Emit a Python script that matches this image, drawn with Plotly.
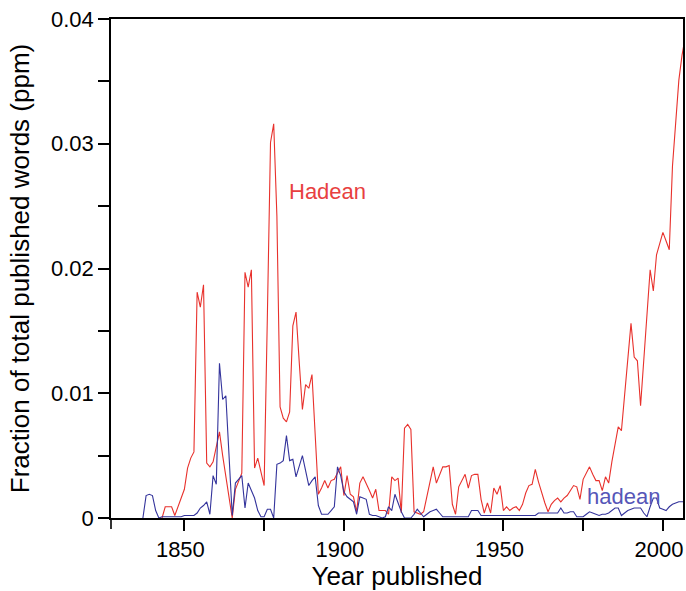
import plotly.graph_objects as go

# Word-frequency series (fraction of published words, ppm), one value per year
red_start = 1843
red_values = [
    0.0000, 0.0009, 0.0009, 0.0009, 0.0002, 0.0009, 0.0016,                          # 1843-1849
    0.0023, 0.0040, 0.0048, 0.0053, 0.0181, 0.0169, 0.0187, 0.0044, 0.0041, 0.0045,  # 1850s
    0.0058, 0.0069, 0.0050, 0.0032, 0.0014, 0.0000, 0.0023, 0.0030, 0.0036, 0.0197,  # 1860s
    0.0185, 0.0199, 0.0040, 0.0048, 0.0036, 0.0026, 0.0160, 0.0301, 0.0316, 0.0242,  # 1870s
    0.0089, 0.0080, 0.0077, 0.0085, 0.0154, 0.0165, 0.0125, 0.0087, 0.0107, 0.0104,  # 1880s
    0.0115, 0.0068, 0.0019, 0.0024, 0.0030, 0.0024, 0.0030, 0.0031, 0.0036, 0.0041,  # 1890s
    0.0018, 0.0034, 0.0019, 0.0017, 0.0005, 0.0028, 0.0033, 0.0028, 0.0022, 0.0016,  # 1900s
    0.0023, 0.0006, 0.0006, 0.0006, 0.0003, 0.0033, 0.0030, 0.0032, 0.0004, 0.0072,  # 1910s
    0.0075, 0.0071, 0.0005, 0.0004, 0.0003, 0.0005, 0.0017, 0.0029, 0.0041, 0.0028,  # 1920s
    0.0035, 0.0041, 0.0041, 0.0042, 0.0011, 0.0003, 0.0025, 0.0030, 0.0035, 0.0024,  # 1930s
    0.0034, 0.0035, 0.0035, 0.0015, 0.0004, 0.0012, 0.0004, 0.0024, 0.0019, 0.0026,  # 1940s
    0.0006, 0.0009, 0.0006, 0.0008, 0.0009, 0.0006, 0.0011, 0.0020, 0.0026, 0.0027,  # 1950s
    0.0039, 0.0029, 0.0020, 0.0012, 0.0005, 0.0011, 0.0014, 0.0016, 0.0013, 0.0016,  # 1960s
    0.0018, 0.0022, 0.0026, 0.0025, 0.0015, 0.0031, 0.0036, 0.0041, 0.0035, 0.0030,  # 1970s
    0.0030, 0.0022, 0.0033, 0.0028, 0.0045, 0.0060, 0.0073, 0.0070, 0.0098, 0.0127,  # 1980s
    0.0156, 0.0129, 0.0126, 0.0090, 0.0125, 0.0159, 0.0199, 0.0182, 0.0211, 0.0220,  # 1990s
    0.0229, 0.0222, 0.0215, 0.0282, 0.0320, 0.0351, 0.0371, 0.0385, 0.0400,          # 2000-2008
]
red_years = list(range(red_start, red_start + len(red_values)))

blue_start = 1837
blue_values = [
    0.0000, 0.0018, 0.0019,                                                          # 1837-1839
    0.0018, 0.0006, 0.0000, 0.0001, 0.0001, 0.0001, 0.0001, 0.0001, 0.0001, 0.0001,  # 1840s
    0.0002, 0.0002, 0.0002, 0.0002, 0.0004, 0.0008, 0.0010, 0.0013, 0.0003, 0.0034,  # 1850s
    0.0027, 0.0124, 0.0095, 0.0098, 0.0050, 0.0002, 0.0028, 0.0031, 0.0034, 0.0008,  # 1860s
    0.0028, 0.0022, 0.0016, 0.0006, 0.0001, 0.0001, 0.0007, 0.0007, 0.0000, 0.0043,  # 1870s
    0.0044, 0.0046, 0.0066, 0.0046, 0.0047, 0.0033, 0.0042, 0.0050, 0.0038, 0.0026,  # 1880s
    0.0030, 0.0033, 0.0010, 0.0003, 0.0003, 0.0003, 0.0006, 0.0009, 0.0041, 0.0034,  # 1890s
    0.0021, 0.0017, 0.0015, 0.0013, 0.0003, 0.0017, 0.0016, 0.0015, 0.0003, 0.0002,  # 1900s
    0.0002, 0.0001, 0.0000, 0.0001, 0.0009, 0.0006, 0.0019, 0.0012, 0.0005, 0.0000,  # 1910s
    0.0000, 0.0000, 0.0003, 0.0007, 0.0004, 0.0001, 0.0003, 0.0005, 0.0006, 0.0007,  # 1920s
    0.0004, 0.0001, 0.0001, 0.0001, 0.0001, 0.0001, 0.0001, 0.0001, 0.0001, 0.0001,  # 1930s
    0.0006, 0.0006, 0.0006, 0.0002, 0.0002, 0.0002, 0.0002, 0.0002, 0.0002, 0.0002,  # 1940s
    0.0002, 0.0002, 0.0002, 0.0002, 0.0002, 0.0002, 0.0002, 0.0002, 0.0002, 0.0002,  # 1950s
    0.0002, 0.0004, 0.0004, 0.0004, 0.0004, 0.0004, 0.0004, 0.0004, 0.0008, 0.0004,  # 1960s
    0.0004, 0.0005, 0.0005, 0.0001, 0.0001, 0.0001, 0.0003, 0.0005, 0.0004, 0.0003,  # 1970s
    0.0002, 0.0003, 0.0003, 0.0004, 0.0006, 0.0008, 0.0008, 0.0002, 0.0004, 0.0006,  # 1980s
    0.0007, 0.0008, 0.0008, 0.0008, 0.0004, 0.0001, 0.0009, 0.0016, 0.0016, 0.0008,  # 1990s
    0.0007, 0.0006, 0.0009, 0.0011, 0.0012, 0.0013, 0.0013, 0.0013, 0.0013,          # 2000-2008
]
blue_years = list(range(blue_start, blue_start + len(blue_values)))

x_tick_vals = [1850, 1900, 1950, 2000]
x_tick_text = ["1850", "1900", "1950", "2000"]
y_tick_vals = [0, 0.01, 0.02, 0.03, 0.04]
y_tick_text = ["0", "0.01", "0.02", "0.03", "0.04"]

RED = "#e8312c"
RED_TEXT = "#e84040"
BLUE = "#34349c"
BLUE_TEXT = "#5656b8"
FONT = "Liberation Sans, Arial, Helvetica, sans-serif"

fig = go.Figure()
fig.add_trace(go.Scatter(x=red_years, y=red_values, mode="lines",
                         line=dict(color=RED, width=1.1), name="Hadean"))
fig.add_trace(go.Scatter(x=blue_years, y=blue_values, mode="lines",
                         line=dict(color=BLUE, width=1.1), name="hadean"))

fig.add_annotation(x=1882.3, y=0.0262, text="Hadean", showarrow=False,
                   xanchor="left", yanchor="middle",
                   font=dict(family=FONT, size=22, color=RED_TEXT))
fig.add_annotation(x=1975.7, y=0.00175, text="hadean", showarrow=False,
                   xanchor="left", yanchor="middle",
                   font=dict(family=FONT, size=22, color=BLUE_TEXT))

# short downward stub at the lower-left corner of the frame
fig.add_shape(type="line", xref="paper", yref="paper",
              x0=0, x1=0, y0=0, y1=-11 / 499,
              line=dict(color="black", width=1.6))

fig.update_layout(
    width=686, height=591,
    margin=dict(l=111, r=1, t=19, b=73),
    paper_bgcolor="white", plot_bgcolor="white",
    showlegend=False,
    font=dict(family=FONT, size=22, color="black"),
    xaxis=dict(
        range=[1827.0, 2006.3],
        tickmode="array", tickvals=x_tick_vals, ticktext=x_tick_text,
        ticks="outside", ticklen=11, tickwidth=1.6, tickcolor="black",
        ticklabeloverflow="allow", ticklabelshift=-4,
        minor=dict(tickmode="linear", tick0=1825, dtick=25,
                   ticks="outside", ticklen=11, tickwidth=1.6, tickcolor="black"),
        showline=True, linecolor="black", linewidth=1.6, mirror=True,
        showgrid=False, zeroline=False,
        tickfont=dict(size=22),
        title=dict(text="Year published", font=dict(size=26), standoff=6),
    ),
    yaxis=dict(
        range=[0, 0.04],
        tickmode="array", tickvals=y_tick_vals, ticktext=y_tick_text,
        ticks="outside", ticklen=11, tickwidth=1.6, tickcolor="black",
        minor=dict(tickmode="linear", tick0=0, dtick=0.005,
                   ticks="outside", ticklen=11, tickwidth=1.6, tickcolor="black"),
        showline=True, linecolor="black", linewidth=1.6, mirror=True,
        showgrid=False, zeroline=False,
        tickfont=dict(size=22),
        title=dict(text="Fraction of total published words (ppm)",
                   font=dict(size=26), standoff=14),
    ),
)

fig.write_html("out.html")
